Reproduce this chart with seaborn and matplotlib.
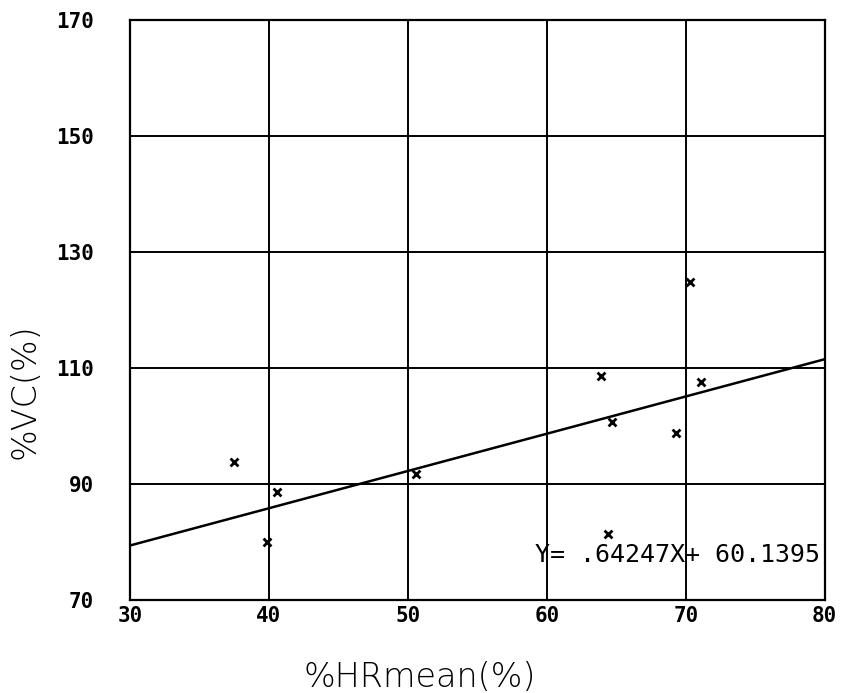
import numpy as np
import pandas as pd
import seaborn as sns
import matplotlib.pyplot as plt

# values
hr_mean = [37.5, 40.6, 39.9, 50.6, 63.9, 64.7, 69.3, 70.3, 71.1, 64.4]
vc_pct = [93.9, 88.6, 80.1, 91.7, 108.6, 100.7, 98.8, 124.8, 107.6, 81.4]

# fitted line as printed on the chart
slope = 0.64247
intercept = 60.1395
fit_text = "Y= .64247X+ 60.1395"

x_ticks = [30, 40, 50, 60, 70, 80]
y_ticks = [70, 90, 110, 130, 150, 170]

df = pd.DataFrame({"hr": hr_mean, "vc": vc_pct})
fit = pd.DataFrame({"hr": [x_ticks[0], x_ticks[-1]]})
fit["vc"] = slope * fit["hr"] + intercept

sns.set_style("white")
plt.rcParams["font.family"] = ["DejaVu Sans Mono", "DejaVu Sans"]
plt.rcParams["text.color"] = "black"
plt.rcParams["xtick.color"] = "black"
plt.rcParams["ytick.color"] = "black"
plt.rcParams["axes.labelcolor"] = "black"

fig = plt.figure(figsize=(8.6, 6.93), dpi=100)
ax = fig.add_axes([0.151, 0.134, 0.808, 0.837])

sns.lineplot(data=fit, x="hr", y="vc", color="black", linewidth=1.8, ax=ax)
sns.scatterplot(data=df, x="hr", y="vc", marker="x", color="black",
                s=32, linewidth=2, ax=ax, zorder=5)

ax.set_xlim(30, 80)
ax.set_ylim(70, 170)
ax.set_xticks(x_ticks)
ax.set_yticks(y_ticks)
ax.grid(True, color="black", linewidth=1.4)
for s in ax.spines.values():
    s.set_color("black")
    s.set_linewidth(1.6)

ax.tick_params(axis="both", length=0, labelsize=15)
ax.tick_params(axis="y", pad=26)
ax.tick_params(axis="x", pad=4)
for lab in ax.get_xticklabels() + ax.get_yticklabels():
    lab.set_fontweight("bold")

ax.set_xlabel("%HRmean(%)", fontsize=24, family="DejaVu Sans", fontweight="light")
ax.set_ylabel("%VC(%)", fontsize=24, family="DejaVu Sans", fontweight="light")
ax.xaxis.set_label_coords(0.417, -0.105)
ax.yaxis.set_label_coords(-0.127, 0.36)

ax.text(0.993, 0.065, fit_text, transform=ax.transAxes, ha="right",
        va="baseline", fontsize=18)

fig.savefig("out.png", dpi=100)
